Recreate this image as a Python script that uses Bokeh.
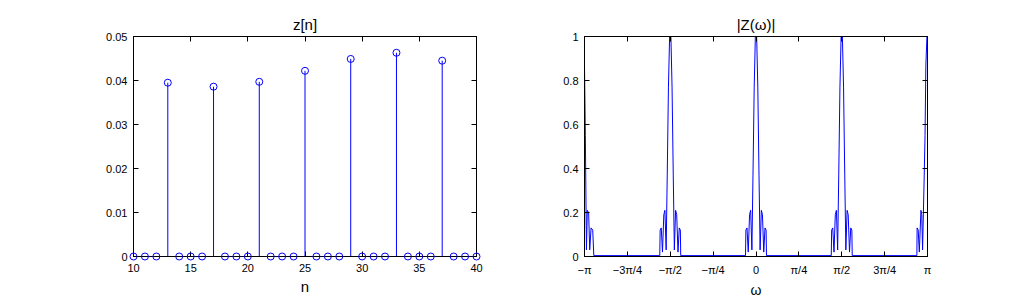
import numpy as np
from bokeh.plotting import figure
from bokeh.layouts import row
from bokeh.models import FixedTicker, LinearAxis, Range1d, ColumnDataSource
from bokeh.embed import file_html
from bokeh.resources import INLINE

# ---- data: z[n] ----
n_vals = list(range(10, 41))
z_vals = [0, 0, 0, 0.0395, 0, 0, 0, 0.0386, 0, 0, 0, 0.0397, 0, 0, 0, 0.0422,
          0, 0, 0, 0.0449, 0, 0, 0, 0.0463, 0, 0, 0, 0.0445, 0, 0, 0]
left_xticks = [10, 15, 20, 25, 30, 35, 40]
left_yticks = [0, 0.01, 0.02, 0.03, 0.04, 0.05]
left_ylabels = {0: "0", 0.01: "0.01", 0.02: "0.02", 0.03: "0.03", 0.04: "0.04", 0.05: "0.05"}

# ---- data: |Z(w)| ----
w_vals = [
    -3.1416, -3.126, -3.106, -3.091, -3.066, -3.046, -3.021, -2.991, -2.971,
    -1.7628, -1.7558, -1.7358, -1.7128, -1.6888, -1.6688, -1.6458, -1.6258, -1.6038, -1.5828,
    -1.5588, -1.5378, -1.5158, -1.4958, -1.4728, -1.4528, -1.4288, -1.4058, -1.3858, -1.3788,
    -0.192, -0.185, -0.165, -0.142, -0.118, -0.098, -0.075, -0.055, -0.033, -0.012,
    0.012, 0.033, 0.055, 0.075, 0.098, 0.118, 0.142, 0.165, 0.185, 0.192,
    1.3788, 1.3858, 1.4058, 1.4288, 1.4528, 1.4728, 1.4958, 1.5158, 1.5378, 1.5588,
    1.5828, 1.6038, 1.6258, 1.6458, 1.6688, 1.6888, 1.7128, 1.7358, 1.7558, 1.7628,
    2.9466, 2.9516, 2.9716, 2.9916, 3.0216, 3.0366, 3.0516, 3.0816, 3.0966, 3.1116, 3.1316, 3.1416,
]
Z_vals = [
    0.87, 0.55, 0.03, 0.21, 0.20, 0.03, 0.13, 0.12, 0.004,
    0.004, 0.12, 0.13, 0.02, 0.19, 0.21, 0.03, 0.37, 0.77, 1.0,
    1.0, 0.77, 0.37, 0.03, 0.21, 0.19, 0.02, 0.13, 0.12, 0.004,
    0.004, 0.12, 0.13, 0.02, 0.19, 0.21, 0.03, 0.37, 0.77, 1.0,
    1.0, 0.77, 0.37, 0.03, 0.21, 0.19, 0.02, 0.13, 0.12, 0.004,
    0.004, 0.12, 0.13, 0.02, 0.19, 0.21, 0.03, 0.37, 0.77, 1.0,
    1.0, 0.77, 0.37, 0.03, 0.21, 0.19, 0.02, 0.13, 0.12, 0.004,
    0.004, 0.13, 0.12, 0.02, 0.21, 0.19, 0.03, 0.37, 0.55, 0.87, 1.0, 1.0,
]
right_xticks = list(np.pi * np.array([-1, -0.75, -0.5, -0.25, 0, 0.25, 0.5, 0.75, 1]))
right_xlabels = ["\u2212\u03c0", "\u22123\u03c0/4", "\u2212\u03c0/2", "\u2212\u03c0/4", "0",
                 "\u03c0/4", "\u03c0/2", "3\u03c0/4", "\u03c0"]
right_yticks = [0, 0.2, 0.4, 0.6, 0.8, 1]
right_ylabels = {0: "0", 0.2: "0.2", 0.4: "0.4", 0.6: "0.6", 0.8: "0.8", 1: "1"}

FONT = "Liberation Sans"
BLUE = "#0000ff"


def style_axes(p, xticks, yticks, xover, yover, xlabel, xlabel_size):
    p.xaxis.ticker = FixedTicker(ticks=xticks)
    p.yaxis.ticker = FixedTicker(ticks=yticks)
    p.xaxis.major_label_overrides = xover
    p.yaxis.major_label_overrides = yover
    # extra box axes for inward ticks
    p.add_layout(LinearAxis(ticker=FixedTicker(ticks=yticks)), "right")
    p.add_layout(LinearAxis(ticker=FixedTicker(ticks=xticks)), "above")
    for ax in p.axis:
        ax.major_tick_in = 5
        ax.major_tick_out = 0
        ax.minor_tick_line_color = None
        ax.axis_line_color = "black"
        ax.major_tick_line_color = "black"
        ax.major_label_text_font = FONT
        ax.major_label_text_font_size = "11px"
        ax.major_label_text_color = "black"
    for ax in p.right + p.above:
        ax.major_label_text_font_size = "0px"
        ax.major_label_text_color = None
        ax.major_label_standoff = 0
    p.below[0].major_label_standoff = 7
    p.left[0].major_label_standoff = 6
    p.below[0].axis_label = xlabel
    p.below[0].axis_label_text_font = FONT
    p.below[0].axis_label_text_font_size = xlabel_size
    p.below[0].axis_label_text_font_style = "normal"
    p.below[0].axis_label_text_color = "black"
    p.below[0].axis_label_standoff = 3
    p.xgrid.visible = False
    p.ygrid.visible = False
    p.outline_line_color = "black"
    p.title.align = "center"
    p.title.text_font = FONT
    p.title.text_font_size = "15px"
    p.title.text_font_style = "normal"
    p.title.text_color = "black"
    p.title.standoff = 8


# ---- left figure ----
p1 = figure(width=512, height=300, output_backend="svg", toolbar_location=None,
            x_range=Range1d(10, 40), y_range=Range1d(0, 0.05), title="z[n]",
            min_border_left=133, min_border_right=36, min_border_top=36, min_border_bottom=44)
src = ColumnDataSource(dict(n=n_vals, z=z_vals, z0=[0] * len(n_vals)))
p1.segment(x0="n", y0="z0", x1="n", y1="z", source=src, line_color=BLUE, line_width=1)
sc = p1.scatter(x="n", y="z", source=src, marker="circle", size=7, fill_color=None,
                line_color=BLUE, line_width=1)
sc.level = "overlay"
style_axes(p1, left_xticks, left_yticks, {}, left_ylabels, "n", "15px")

# ---- right figure ----
p2 = figure(width=512, height=300, output_backend="svg", toolbar_location=None,
            x_range=Range1d(-np.pi, np.pi), y_range=Range1d(0, 1), title="|Z(\u03c9)|",
            min_border_left=72, min_border_right=97, min_border_top=36, min_border_bottom=44)
p2.line(w_vals, Z_vals, line_color=BLUE, line_width=1)
style_axes(p2, right_xticks, right_yticks,
           {t: l for t, l in zip(right_xticks, right_xlabels)}, right_ylabels, "\u03c9", "14px")

layout = row(p1, p2)
open("out.html", "w").write(file_html(layout, INLINE))
